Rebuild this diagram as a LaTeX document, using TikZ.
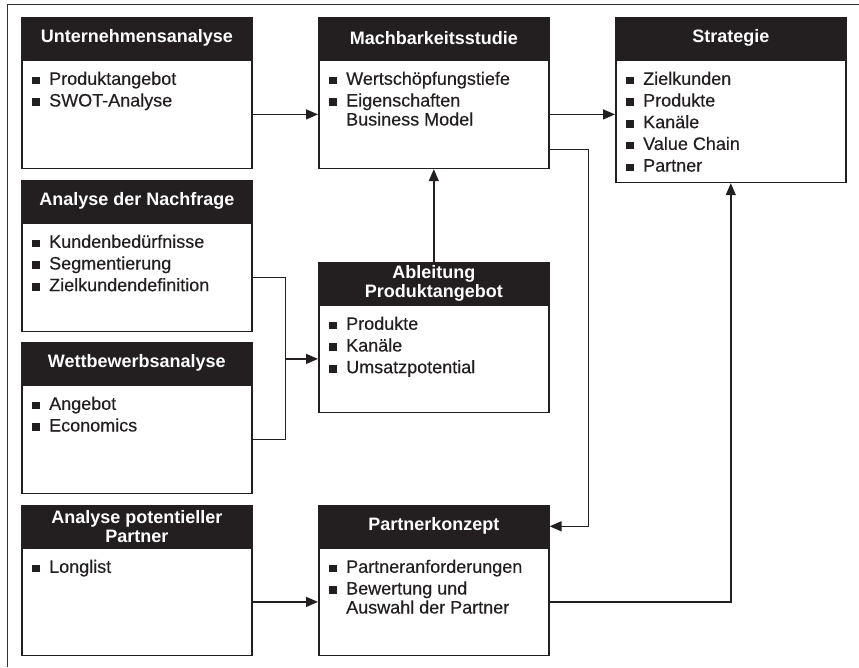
\documentclass[tikz,border=0pt]{standalone}
\usepackage{fontspec}
\setmainfont{Liberation Sans}
\newfontfamily\bodyfont[FakeBold=0.35]{Liberation Sans}
\usetikzlibrary{arrows.meta,calc}
\definecolor{ink}{HTML}{231F20}
\newcommand{\bl}{\makebox[17pt][l]{\rule{0pt}{14pt}\raisebox{0.6pt}{\rule{7.5pt}{7.5pt}}}}
\newcommand{\ind}{\hspace*{17pt}}
\begin{document}
\begin{tikzpicture}[x=1pt,y=-1pt,
  hd/.style={draw=ink,fill=ink,text=white,font=\bfseries\fontsize{18}{19}\selectfont,
    minimum width=230pt,minimum height=41pt,anchor=north west,inner sep=0pt,align=center,line width=1.6pt},
  bd/.style={draw=ink,minimum width=230pt,anchor=north west,inner sep=0pt,line width=1.6pt},
  tx/.style={anchor=north west,inner sep=0pt,align=left,font=\bodyfont\fontsize{18}{19}\selectfont,text=ink},
  ar/.style={draw=ink,line width=1.4pt,-{Triangle[length=12pt,width=10pt]}},
  ln/.style={draw=ink,line width=1.4pt},
  frame/.style={draw=black!80,line width=1pt}]
\useasboundingbox (0,0) rectangle (859,667);
% frame
\coordinate (fa) at (7,667);
\coordinate (fb) at (7,4);
\coordinate (fc) at (859,4);
\draw[frame] (fa) -- (fb) -- (fc);

% Unternehmensanalyse
\node[hd] (uh) at (21,17) {Unternehmensanalyse};
\node[bd,minimum height=108pt] (ub) at (uh.south west) {};
\node[tx] (ut) at ($(ub.north west)+(11,11)$) {\bl Produktangebot\\[2.7pt]\bl SWOT-Analyse};

% Machbarkeitsstudie
\node[hd] (mh) at (318,17) {Machbarkeitsstudie};
\node[bd,minimum height=108pt] (mb) at (mh.south west) {};
\node[tx] (mt) at ($(mb.north west)+(11,11)$) {\bl Wertschöpfungstiefe\\[2.7pt]\bl Eigenschaften\\\ind Business Model};

% Strategie
\node[hd] (sh) at (615,17) {Strategie};
\node[bd,minimum height=122pt] (sb) at (sh.south west) {};
\node[tx] (st) at ($(sb.north west)+(11,11)$) {\bl Zielkunden\\[2.7pt]\bl Produkte\\[2.7pt]\bl Kanäle\\[2.7pt]\bl Value Chain\\[2.7pt]\bl Partner};

% Analyse der Nachfrage
\node[hd] (nh) at (21,180) {Analyse der Nachfrage};
\node[bd,minimum height=108pt] (nb) at (nh.south west) {};
\node[tx] (nt) at ($(nb.north west)+(11,11)$) {\bl Kundenbedürfnisse\\[2.7pt]\bl Segmentierung\\[2.7pt]\bl Zielkundendefinition};

% Ableitung Produktangebot
\node[hd] (ah) at (318,262) {Ableitung\\Produktangebot};
\node[bd,minimum height=107pt] (ab) at (ah.south west) {};
\node[tx] (at) at ($(ab.north west)+(11,11)$) {\bl Produkte\\[2.7pt]\bl Kanäle\\[2.7pt]\bl Umsatzpotential};

% Wettbewerbsanalyse
\node[hd] (wh) at (21,342) {Wettbewerbsanalyse};
\node[bd,minimum height=108pt] (wb) at (wh.south west) {};
\node[tx] (wt) at ($(wb.north west)+(11,11)$) {\bl Angebot\\[2.7pt]\bl Economics};

% Analyse potentieller Partner
\node[hd] (ph) at (21,505) {Analyse potentieller\\Partner};
\node[bd,minimum height=107pt] (pb) at (ph.south west) {};
\node[tx] (pt) at ($(pb.north west)+(11,11)$) {\bl Longlist};

% Partnerkonzept
\node[hd] (kh) at (318,505) {Partnerkonzept};
\node[bd,minimum height=107pt] (kb) at (kh.south west) {};
\node[tx] (kt) at ($(kb.north west)+(11,11)$) {\bl Partneranforderungen\\[2.7pt]\bl Bewertung und\\\ind Auswahl der Partner};

% connectors
\draw[ar] (ub.east) -- (mb.west);
\draw[ar] (mb.east) -- (mb.east -| sb.west);
\draw[ar] ([yshift=20pt]mb.south east) -- ++(39,0) |- (kh.east);
\draw[ar] (ah.north) -- (mb.south);
\coordinate (j) at ($(nb.east)+(33,0)$);
\draw[ln] (nb.east) -- (j) |- (wb.east);
\draw[ar] (j |- ab.west) -- (ab.west);
\draw[ar] (pb.east) -- (kb.west);
\draw[ar] (kb.east) -| (sb.south);
\end{tikzpicture}
\end{document}
